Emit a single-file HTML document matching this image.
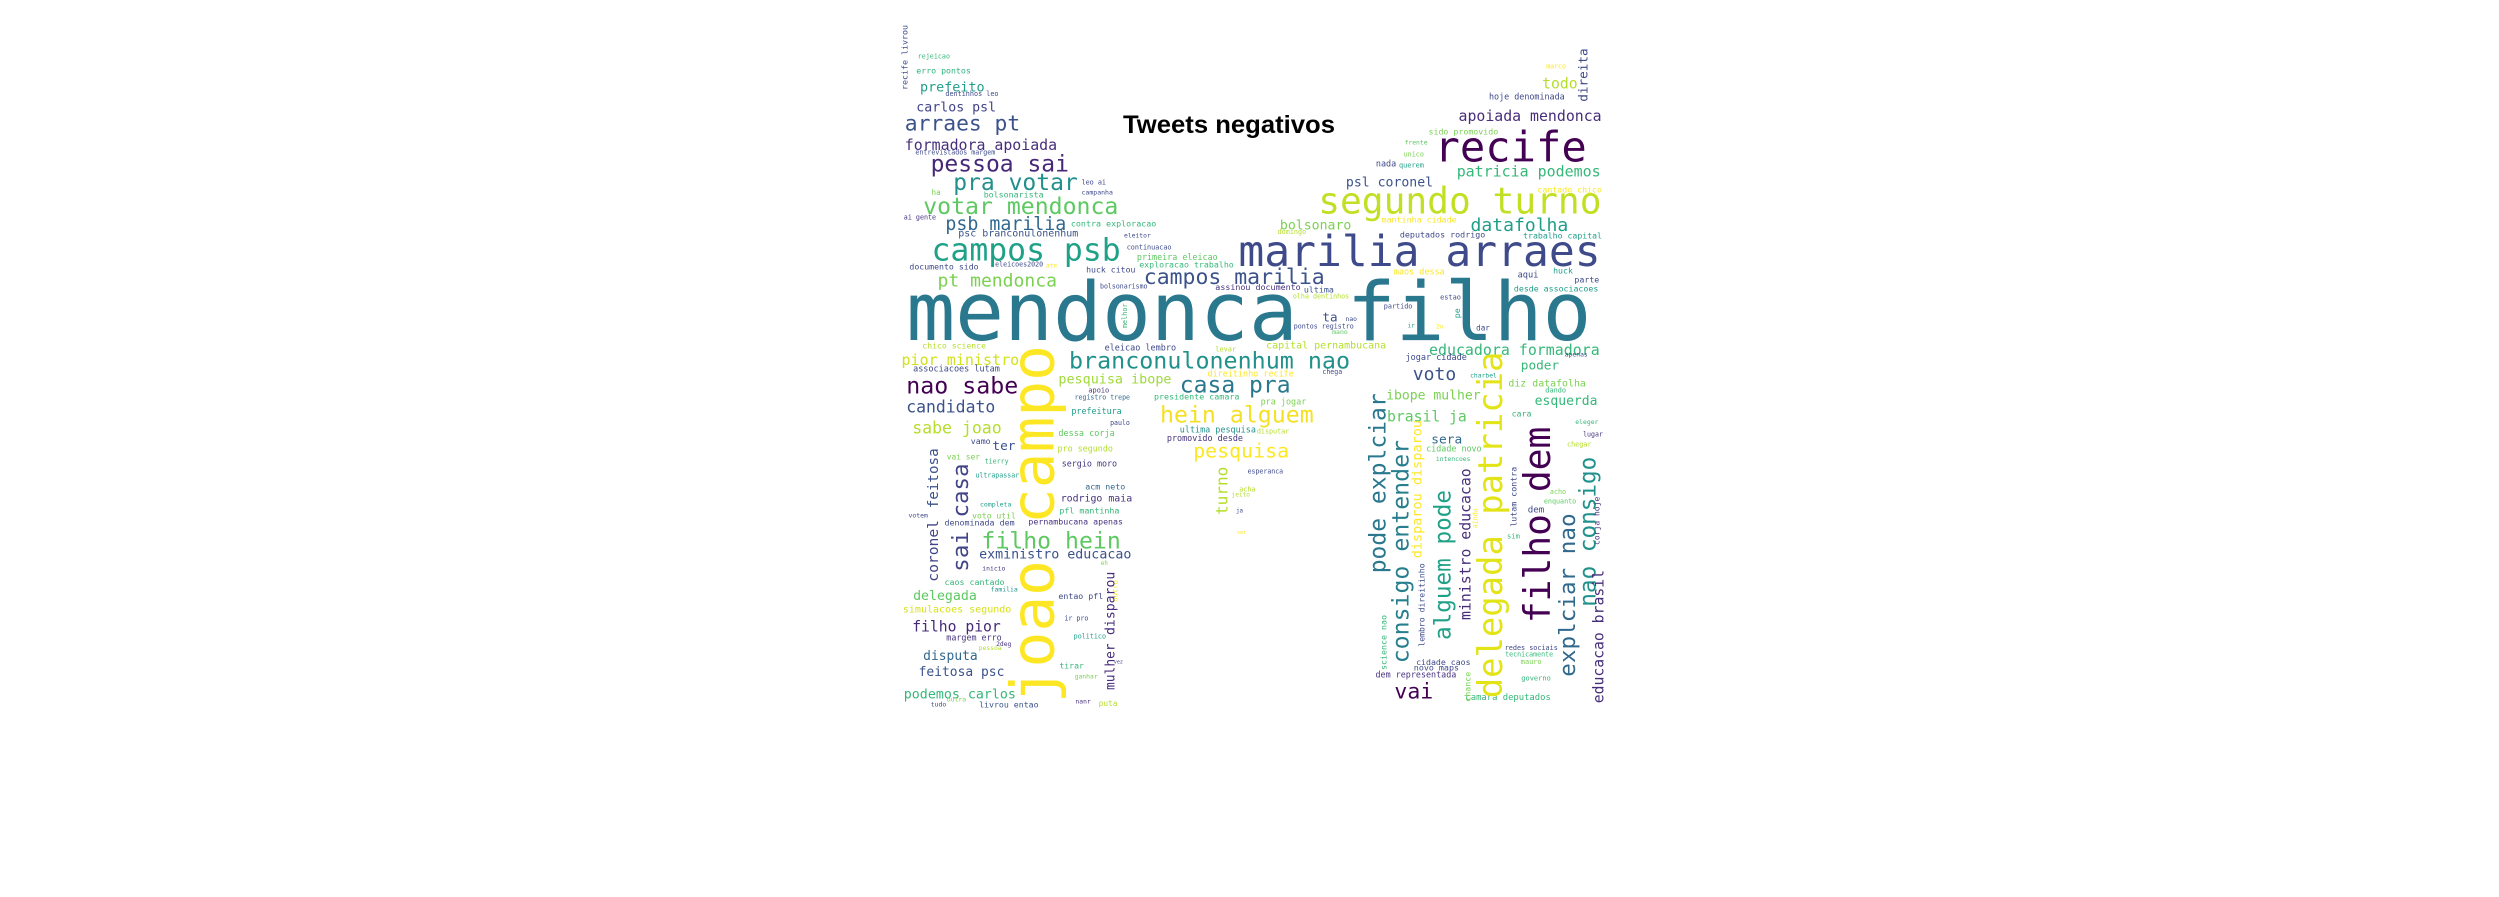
<!DOCTYPE html>
<html><head><meta charset="utf-8"><style>
html,body{margin:0;padding:0;background:#fff;width:2499px;height:897px;overflow:hidden}
svg{display:block}
text{font-family:"DejaVu Sans Mono","Liberation Mono",monospace}
</style></head><body>
<svg id="cloud" width="2499" height="897" viewBox="0 0 2499 897" xmlns="http://www.w3.org/2000/svg">
<text x="1123" y="133" font-family="Liberation Sans, sans-serif" font-weight="bold" font-size="25" textLength="212" lengthAdjust="spacingAndGlyphs" fill="#000" style="font-family:'Liberation Sans',sans-serif">Tweets negativos</text>
</svg>
<script>
// zoom-space layout: [word, x0, x1, baselineY, color, region(1|2)] horizontal
const hWords = [
["rejeicao",60,130,145,"#35b779",1],["erro pontos",57,175,190,"#2db27d",1],["prefeito",65,205,245,"#1f9e89",1],
["dentinhos leo",120,235,258,"#3e4989",1],["carlos psl",57,230,305,"#414487",1],["arraes pt",32,282,362,"#3b528b",1],
["formadora apoiada",32,362,420,"#472d7b",1],["entrevistados margem",55,228,433,"#3e4989",1],["pessoa sai",88,388,485,"#472878",1],
["pra votar",137,407,540,"#21908d",1],["leo ai",415,468,523,"#3e4989",1],["ha",90,110,555,"#7ad151",1],
["bolsonarista",203,333,562,"#35b779",1],["campanha",415,483,553,"#3e4989",1],["votar mendonca",72,495,612,"#5ec962",1],
["ai gente",30,100,628,"#46337e",1],["psb marilia",120,382,660,"#31688e",1],["contra exploracao",392,577,650,"#35b779",1],
["psc branconulonenhum",148,408,680,"#3b528b",1],["eleitor",507,565,682,"#3e4989",1],["campos psb",90,500,752,"#1fa187",1],
["continuacao",513,610,718,"#3e4989",1],["primeira eleicao",535,710,750,"#5ec962",1],["exploracao trabalho",540,745,772,"#35b779",1],
["documento sido",42,192,778,"#3e4989",1],["eleicoes2020",228,332,770,"#3e4989",1],["ate",338,362,772,"#fde725",1],
["huck citou",425,532,787,"#3e4989",1],["pt mendonca",103,362,830,"#7ad151",1],["bolsonarismo",455,558,835,"#3e4989",1],
["campos marilia",550,942,822,"#3b528b",1],["assinou documento",705,890,840,"#46337e",1],["ultima",897,962,848,"#3b528b",1],
["olha dentinhos",873,995,865,"#b5de2b",1],["mendonca filho",35,1520,990,"#2a788e",1],["ta",937,970,935,"#3b528b",1],
["nao",987,1012,933,"#3e4989",1],["pontos registro",875,1005,955,"#3e4989",1],["mano",958,992,972,"#5ec962",1],
["chico science",70,208,1015,"#b5de2b",1],["eleicao lembro",465,620,1022,"#3e4989",1],["levar",705,750,1025,"#b5de2b",1],
["capital pernambucana",815,1075,1015,"#b5de2b",1],["educadora formadora",1168,1538,1035,"#35b779",1],["marco",1422,1465,175,"#fde725",1],
["todo",1413,1490,235,"#b5de2b",1],["hoje denominada",1298,1462,268,"#3e4989",1],["apoiada mendonca",1232,1542,333,"#472d7b",1],
["sido promovido",1167,1318,373,"#7ad151",1],["frente",1115,1165,403,"#5ec962",1],["unico",1113,1157,440,"#7ad151",1],
["recife",1180,1510,455,"#440154",1],["nada",1053,1097,470,"#3e4989",1],["querem",1103,1157,472,"#1f9e89",1],
["patricia podemos",1228,1540,500,"#35b779",1],["psl coronel",988,1177,530,"#3b528b",1],["cantado chico",1403,1543,548,"#fde725",1],
["segundo turno",928,1542,610,"#c2df23",1],["bolsonaro",845,1000,658,"#7ad151",1],["mantinha cidade",1065,1228,637,"#fde725",1],
["domingo",840,902,672,"#b5de2b",1],["datafolha",1258,1470,663,"#1f9e89",1],["deputados rodrigo",1105,1290,683,"#3e4989",1],
["trabalho capital",1372,1543,685,"#1f9e89",1],["marilia arraes",755,1540,768,"#3e4a89",1],["maos dessa",1092,1202,793,"#fde725",1],
["aqui",1360,1405,802,"#3e4989",1],["huck",1437,1480,790,"#1f9e89",1],["parte",1483,1537,818,"#3e4989",1],
["desde associacoes",1352,1535,845,"#1f9e89",1],["estao",1192,1237,868,"#3e4989",1],["partido",1070,1132,895,"#3e4989",1],
["ir",1122,1137,952,"#1f9e89",1],["2o",1183,1200,955,"#fde725",1],["dar",1270,1300,962,"#3e4989",1],
["pior ministro",25,280,45,"#d2e21b",2],["associacoes lutam",50,238,65,"#3e4989",2],["branconulonenhum nao",388,997,55,"#21918c",2],
["direitinho recife",688,875,80,"#fde725",2],["chega",937,980,72,"#3e4989",2],["pesquisa ibope",365,610,100,"#a0da39",2],
["casa pra",628,868,128,"#2a788e",2],["nao sabe",35,278,130,"#440154",2],["apoio",430,475,127,"#46337e",2],
["registro trepe",400,520,148,"#31688e",2],["presidente camara",572,757,148,"#35b779",2],["pra jogar",803,902,163,"#7ad151",2],
["candidato",35,228,188,"#3b528b",2],["prefeitura",393,502,192,"#1f9e89",2],["hein alguem",585,918,218,"#f5e024",2],
["paulo",477,520,225,"#3e4989",2],["sabe joao",48,242,250,"#b5de2b",2],["ultima pesquisa",628,793,248,"#21918c",2],
["disputar",795,865,250,"#b5de2b",2],["dessa corja",365,487,258,"#5ec962",2],["promovido desde",600,765,273,"#46337e",2],
["vamo",175,218,282,"#3e4989",2],["ter",222,272,300,"#3b528b",2],["pesquisa",657,865,322,"#fde725",2],
["pro segundo",363,483,305,"#b5de2b",2],["vai ser",123,195,328,"#7ad151",2],["tierry",205,257,340,"#35b779",2],
["sergio moro",372,492,350,"#46337e",2],["esperanca",775,852,370,"#3e4989",2],["ultrapassar",185,280,382,"#1f9e89",2],
["acm neto",423,510,418,"#31688e",2],["acha",757,792,425,"#b5de2b",2],["jeito",740,780,440,"#b5de2b",2],
["rodrigo maia",370,525,455,"#46337e",2],["completa",195,263,470,"#1f9e89",2],["pfl mantinha",367,497,490,"#35b779",2],
["ja",750,765,488,"#3e4989",2],["votem",40,82,502,"#3e4989",2],["voto util",178,273,505,"#7ad151",2],
["denominada dem",118,270,527,"#3e4989",2],["pernambucana apenas",300,505,523,"#46337e",2],["ser",752,772,552,"#fde725",2],
["filho hein",198,500,595,"#5ec962",2],["exministro educacao",193,523,625,"#3b528b",2],["eh",457,472,645,"#7ad151",2],
["inicio",200,250,662,"#46337e",2],["caos cantado",118,248,705,"#35b779",2],["familia",218,277,725,"#21918c",2],
["delegada",50,188,750,"#5ec962",2],["entao pfl",365,462,747,"#3e4989",2],["simulacoes segundo",28,263,788,"#d8e219",2],
["ir pro",378,430,812,"#3e4989",2],["filho pior",48,240,845,"#472878",2],["margem erro",122,242,872,"#46337e",2],
["2deg",230,263,888,"#46337e",2],["politico",398,468,865,"#1f9e89",2],["pessoa",192,242,900,"#b5de2b",2],
["disputa",72,190,930,"#31688e",2],["tirar",367,420,955,"#35b779",2],["vez",485,505,940,"#3e4989",2],
["feitosa psc",62,248,978,"#3b528b",2],["ganhar",400,450,985,"#7ad151",2],["podemos carlos",30,273,1045,"#35b779",2],
["tudo",88,122,1070,"#3e4989",2],["outra",123,165,1055,"#7ad151",2],["livrou entao",193,322,1072,"#3b528b",2],
["nanr",402,435,1060,"#46337e",2],["puta",452,493,1068,"#b5de2b",2],
["jogar cidade",1117,1250,30,"#3e4989",2],["apenas",1462,1512,20,"#3e4989",2],["poder",1367,1450,58,"#35b779",2],
["voto",1133,1227,90,"#3b528b",2],["charbel",1257,1315,82,"#1f9e89",2],["diz datafolha",1340,1508,110,"#7ad151",2],
["dando",1420,1465,128,"#35b779",2],["ibope mulher",1075,1280,148,"#7ad151",2],["esquerda",1397,1533,165,"#35b779",2],
["brasil ja",1077,1250,215,"#5ec962",2],["cara",1347,1390,200,"#35b779",2],["eleger",1485,1535,222,"#35b779",2],
["lugar",1502,1545,260,"#46337e",2],["sera",1173,1240,280,"#31688e",2],["chegar",1467,1520,290,"#b5de2b",2],
["cidade novo",1162,1282,305,"#5ec962",2],["intencoes",1183,1258,333,"#35b779",2],["acho",1430,1465,432,"#7ad151",2],
["enquanto",1417,1487,460,"#5ec962",2],["dem",1382,1418,487,"#3e4989",2],["sim",1337,1365,565,"#35b779",2],
["redes sociais",1332,1447,900,"#3e4989",2],["tecnicamente",1333,1437,920,"#35b779",2],["mauro",1367,1412,942,"#7ad151",2],
["cidade caos",1140,1258,945,"#3e4989",2],["novo maps",1135,1233,962,"#3e4989",2],["dem representada",1052,1227,983,"#46337e",2],
["governo",1368,1432,992,"#35b779",2],["vai",1093,1177,1045,"#440154",2],["camara deputados",1247,1432,1050,"#35b779",2]
];
// vertical words: [word, bandX0, bandX1, bottomY, topY, color, region]
const vWords = [
["recife livrou",25,40,240,45,"#3e4989",1],["melhor",500,515,955,880,"#35b779",1],["direita",1490,1515,275,115,"#3e4989",1],
["pe",1222,1237,925,895,"#1f9e89",1],
["joao campo",255,370,1060,-15,"#fde725",2],["feitosa",85,108,475,295,"#3b528b",2],["turno",705,735,495,350,"#b5de2b",2],
["sai casa",140,175,665,340,"#414487",2],["coronel",80,108,695,510,"#414487",2],["outro",485,495,755,690,"#fde725",2],
["disparou",460,490,855,665,"#472d7b",2],["mulher",462,490,1020,880,"#472d7b",2],
["pode explciar",1035,1080,670,130,"#2a788e",2],["consigo entender",1085,1130,940,270,"#277f8e",2],
["disparou disparou",1130,1155,625,210,"#fde725",2],["lembro direitinho",1140,1160,890,640,"#3e4989",2],
["science nao",1060,1078,960,795,"#35b779",2],["alguem pode",1180,1220,870,420,"#1fa187",2],
["ministro educacao",1238,1262,810,355,"#472d7b",2],["ainda",1262,1275,535,475,"#fde725",2],
["chance",1245,1260,1055,965,"#7ad151",2],["delegada patricia",1280,1335,1045,5,"#e2e418",2],
["lutam contra",1345,1360,530,350,"#3e4989",2],["filho dem",1360,1440,820,230,"#440154",2],
["explciar nao",1445,1490,980,490,"#31688e",2],["nao consigo",1490,1535,770,320,"#21918c",2],
["corja hoje",1520,1540,585,440,"#46337e",2],["educacao brasil",1520,1550,1060,660,"#472d7b",2]
];
const NS="http://www.w3.org/2000/svg";
const svg=document.getElementById('cloud');
function X(zx){return 890+zx/2.167;}
function Y(zy,r){return (r===1?10:350)+zy/3;}
function slug(s){return 'word-'+s.replace(/[^a-z0-9]+/gi,'-');}
hWords.forEach(function(w){
  const x0=X(w[1]),x1=X(w[2]),len=x1-x0,n=w[0].length;
  const fs=len/(n*0.602);
  const t=document.createElementNS(NS,'text');
  
  
  t.setAttribute('x',x0.toFixed(1));
  t.setAttribute('y',Y(w[3],w[5]).toFixed(1));
  t.setAttribute('font-size',fs.toFixed(1));
  t.setAttribute('textLength',len.toFixed(1));
  t.setAttribute('lengthAdjust','spacingAndGlyphs');
  t.setAttribute('fill',w[4]);
  t.textContent=w[0];
  svg.appendChild(t);
});
vWords.forEach(function(w){
  const yb=Y(w[3],w[6]),yt=Y(w[4],w[6]),len=yb-yt,n=w[0].length;
  const fs=len/(n*0.602);
  const bx=X(w[2])-0.12*fs;
  const t=document.createElementNS(NS,'text');
  
  
  t.setAttribute('x','0');t.setAttribute('y','0');
  t.setAttribute('transform','translate('+bx.toFixed(1)+','+yb.toFixed(1)+') rotate(-90)');
  t.setAttribute('font-size',fs.toFixed(1));
  t.setAttribute('textLength',len.toFixed(1));
  t.setAttribute('lengthAdjust','spacingAndGlyphs');
  t.setAttribute('fill',w[5]);
  t.textContent=w[0];
  svg.appendChild(t);
});
</script>
</body></html>
